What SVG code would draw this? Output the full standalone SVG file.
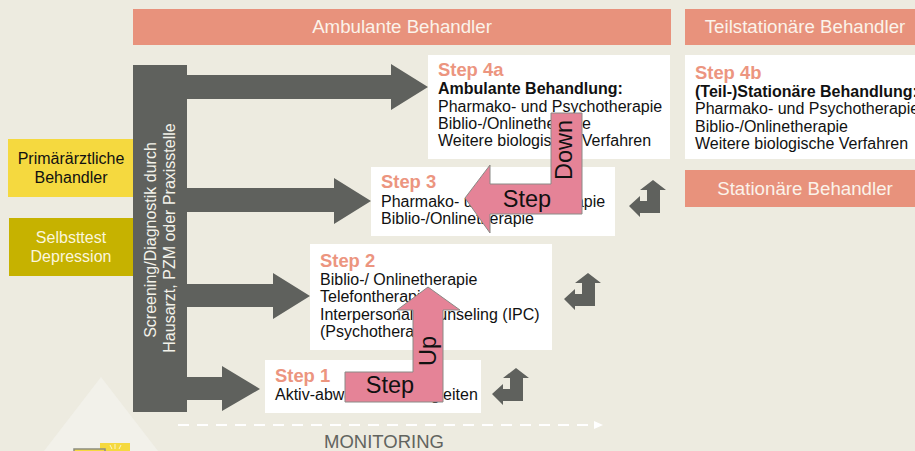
<svg xmlns="http://www.w3.org/2000/svg" width="915" height="451" viewBox="0 0 915 451">
<style>
text{font-family:"Liberation Sans",Arial,sans-serif;fill:#111}
.hdr{fill:#e8927c}
.hl{font-size:18.7px;fill:#fbf3ea;text-anchor:middle}
.box{fill:#fff}
.st{font-size:18.4px;font-weight:bold;fill:#ec957f}
.b{font-size:16px}
.bb{font-size:16px;font-weight:bold}
.gr{fill:#5f615d}
.pink{fill:#e58397;stroke:#8a8a86;stroke-width:1}
.pt{font-size:23.5px;fill:#111;text-anchor:middle}
.side{font-size:16px;text-anchor:middle}
.rot{font-size:16px;text-anchor:middle;fill:#f3f2ea}
</style>
<defs>
<polygon id="ret" points="0,0 13,10 7,10 7,33 -13,33 -13,37 -24,26 -13,16 -13,21 -6,21 -6,10 -13,10"/>
</defs>
<rect width="915" height="451" fill="#edebe0"/>
<polygon points="101,377 158,451 44,451" fill="#f2f1ea"/>
<g id="connectors">
<polygon class="gr" points="187,75 391,75 391,64 428,87 391,110 391,99 187,99"/>
<polygon class="gr" points="187,188 334,188 334,178 371,201 334,224 334,212 187,212"/>
<polygon class="gr" points="187,284 273,284 273,273 310,296 273,319 273,307 187,307"/>
<polygon class="gr" points="187,377 222,377 222,366 260,389 222,411 222,400 187,400"/>
<path d="M178,425H594" fill="none" stroke="#fff" stroke-width="2" stroke-dasharray="11,8"/>
<polygon points="594,421 603,425 594,429" fill="#fff"/>
</g>
<g id="bottom-icon">
<rect x="100" y="443" width="30" height="8" fill="#f5d93f"/>
<path d="M110,445l2,4M115,444v5M121,445l-2,4" stroke="#fbf3c8" stroke-width="1" fill="none"/>
<rect x="74" y="449" width="31" height="4" fill="#f5d93f" stroke="#8d8d80" stroke-width="1.5"/>
</g>
<g id="header-ambulant"><rect class="hdr" x="133" y="9" width="538" height="36"/><text class="hl" x="402" y="33">Ambulante Behandler</text></g>
<g id="header-teilstationaer"><rect class="hdr" x="685" y="9" width="230" height="36"/><text class="hl" x="805" y="33">Teilstationäre Behandler</text></g>
<g id="header-stationaer"><rect class="hdr" x="685" y="170" width="230" height="37"/><text class="hl" x="805" y="195">Stationäre Behandler</text></g>
<g id="primaer"><rect x="8" y="139" width="125" height="58" fill="#f5d93f"/><text class="side" x="71" y="164">Primärärztliche</text><text class="side" x="71" y="183">Behandler</text></g>
<g id="selbsttest"><rect x="9" y="218" width="124" height="58" fill="#c6b200"/><text class="side" x="71" y="243" style="fill:#fbf6dc">Selbsttest</text><text class="side" x="71" y="262" style="fill:#fbf6dc">Depression</text></g>
<g id="screening"><rect class="gr" x="133" y="65" width="54" height="347"/>
<text class="rot" transform="translate(156,240) rotate(-90)">Screening/Diagnostik durch</text>
<text class="rot" transform="translate(175,238) rotate(-90)">Hausarzt, PZM oder Praxisstelle</text></g>
<g id="step4a"><rect class="box" x="428" y="55" width="242" height="104"/><text class="st" x="438" y="76">Step 4a</text><text class="bb" x="438" y="94">Ambulante Behandlung:</text><text class="b" x="438" y="112">Pharmako- und Psychotherapie</text><text class="b" x="438" y="129">Biblio-/Onlinetherapie</text><text class="b" x="438" y="146">Weitere biologische Verfahren</text></g>
<g id="step4b"><rect class="box" x="685" y="55" width="230" height="104"/><text class="st" x="695" y="79">Step 4b</text><text class="bb" x="695" y="97">(Teil-)Stationäre Behandlung:</text><text class="b" x="695" y="114">Pharmako- und Psychotherapie</text><text class="b" x="695" y="132">Biblio-/Onlinetherapie</text><text class="b" x="695" y="149">Weitere biologische Verfahren</text></g>
<g id="step3"><rect class="box" x="371" y="167" width="244" height="69"/><text class="st" x="381" y="188">Step 3</text><text class="b" x="381" y="207">Pharmako- und Psychotherapie</text><text class="b" x="381" y="224">Biblio-/Onlinetherapie</text></g>
<g id="step2"><rect class="box" x="310" y="244" width="242" height="106"/><text class="st" x="320" y="267">Step 2</text><text class="b" x="320" y="285">Biblio-/ Onlinetherapie</text><text class="b" x="320" y="302">Telefontherapie</text><text class="b" x="320" y="320">Interpersonal Counseling (IPC)</text><text class="b" x="320" y="337">(Psychotherapie)</text></g>
<g id="step1"><rect class="box" x="265" y="360" width="216" height="53"/><text class="st" x="275" y="382">Step 1</text><text class="b" x="275" y="400">Aktiv-abwartendes Begleiten</text></g>
<g id="return-arrows" class="gr">
<use href="#ret" x="516" y="368"/>
<use href="#ret" x="588" y="273"/>
<use href="#ret" x="653" y="180"/>
</g>
<g id="step-up"><polygon class="pink" points="345,372 413,372 413,310 397,310 428,287 460,310 443,310 443,402 345,402"/>
<text class="pt" x="390" y="393">Step</text><text class="pt" transform="translate(436,351) rotate(-90)">Up</text></g>
<g id="step-down"><polygon class="pink" points="582,113 582,214 490,214 490,233 465,198 490,165 490,184 551,184 551,113"/>
<text class="pt" x="527" y="207">Step</text><text class="pt" transform="translate(572,150) rotate(-90)">Down</text></g>
<text x="384" y="448" font-size="18.5" text-anchor="middle" style="fill:#62645f">MONITORING</text>
</svg>
